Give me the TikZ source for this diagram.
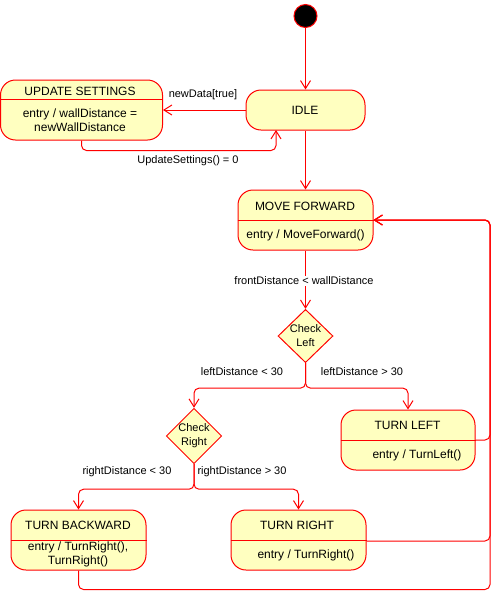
\documentclass[tikz,border=0pt]{standalone}
\usepackage{fontspec}
\setmainfont{Liberation Sans}
\usetikzlibrary{arrows.meta,shapes.geometric}
\definecolor{st}{HTML}{FF0000}
\definecolor{fl}{HTML}{FFFFC0}
\begin{document}
\begin{tikzpicture}[x=1pt,y=-1pt,
  state/.style={draw=st,fill=fl,line width=1pt,rounded corners=15pt,minimum width=#1,minimum height=60pt,inner sep=0pt},
  choice/.style={draw=st,fill=fl,line width=1pt,shape=diamond,minimum width=55pt,minimum height=49pt,inner sep=0pt,align=center,font=\fontsize{11}{14}\selectfont},
  title/.style={font=\fontsize{12}{14}\selectfont,inner sep=0pt},
  body/.style={font=\fontsize{12}{14}\selectfont,inner sep=0pt,align=center},
  lbl/.style={font=\fontsize{11}{13}\selectfont,inner sep=0pt},
  arr/.style={draw=st,line width=1pt,rounded corners=5pt,-{Straight Barb[length=8pt,width=10pt]}},
  divl/.style={draw=st,line width=1pt}]
\useasboundingbox (0,0) rectangle (499,592);

% initial
\node[circle,fill=black,draw=st,line width=1pt,minimum size=23pt,inner sep=0pt] (init) at (305.5,16) {};

% IDLE
\node[state=119pt,minimum height=40pt] (idle) at (305.5,110) {};
\node[title] (idlet) at (305,110) {IDLE};

% UPDATE SETTINGS
\node[state=162pt] (upd) at (81.5,110) {};
\draw[divl] ([yshift=-20pt]upd.north west) -- ([yshift=-20pt]upd.north east);
\node[title] (updt) at (80,91) {UPDATE SETTINGS};
\node[body] (updb) at (80,120) {entry / wallDistance =\\newWallDistance};

% MOVE FORWARD
\node[state=135pt] (move) at (305.5,220) {};
\draw[divl] (move.west) -- (move.east);
\node[title] (movet) at (305,206) {MOVE FORWARD};
\node[body] (moveb) at (305.5,235) {entry / MoveForward()};

% Check Left
\node[choice] (chl) at (305.5,336) {Check\\Left};

% Check Right
\node[choice] (chr) at (194,436) {Check\\Right};

% TURN LEFT
\node[state=134pt] (tleft) at (408,440) {};
\draw[divl] (tleft.west) -- (tleft.east);
\node[title] (tleftt) at (407.5,425) {TURN LEFT};
\node[body] (tleftb) at (417,455) {entry / TurnLeft()};

% TURN BACKWARD
\node[state=135pt] (tback) at (78.5,540) {};
\draw[divl] ([yshift=-31pt]tback.north west) -- ([yshift=-31pt]tback.north east);
\node[title] (tbackt) at (78,525) {TURN BACKWARD};
\node[body] (tbackb) at (78,554.5) {entry / TurnRight(),\\TurnRight()};

% TURN RIGHT
\node[state=135pt] (tright) at (298.5,540) {};
\draw[divl] ([yshift=-31pt]tright.north west) -- ([yshift=-31pt]tright.north east);
\node[title] (trightt) at (297,525) {TURN RIGHT};
\node[body] (trightb) at (306,555) {entry / TurnRight()};

% connectors
\coordinate (rt) at (490,220);
\coordinate (idlein) at (276,130);

\draw[arr] (init) -- (idle.north);
\draw[arr] (idle.west) -- (upd.east);
\node[lbl] (l1) at (203,95) {newData[true]};
\draw[arr] (upd.south) -- ++(0,10) -| (idlein);
\node[lbl] (l2) at (188,161) {UpdateSettings() = 0};
\draw[arr] (idle.south) -- (move.north);

\draw[arr] (move.south) -- (chl.north);
\node[lbl,fill=white,inner sep=1pt] (l3) at (304,281) {frontDistance < wallDistance};

\draw[arr] (chl.south) -- ++(0,25) -| (chr.north);
\draw[arr] (chl.south) -- ++(0,25) -| (tleft.north);
\node[lbl] (l4) at (242,372) {leftDistance < 30};
\node[lbl] (l5) at (362,372) {leftDistance > 30};

\draw[arr] (chr.south) -- ++(0,25) -| (tback.north);
\draw[arr] (chr.south) -- ++(0,25) -| (tright.north);
\node[lbl] (l6) at (127,472) {rightDistance < 30};
\node[lbl] (l7) at (242,472) {rightDistance > 30};

\draw[arr] (tleft.east) -| (rt) -- (move.east);
\draw[arr] ([yshift=-1pt]tright.east) -| (rt) -- (move.east);
\draw[arr] (tback.south) -- ++(0,19) -| (rt) -- (move.east);
\end{tikzpicture}
\end{document}
